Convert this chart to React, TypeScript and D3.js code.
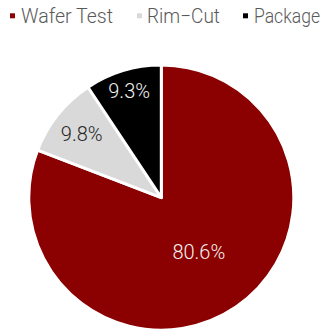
import React, { useLayoutEffect, useRef, useState } from "react";
import * as d3 from "d3";

const categories = ["Wafer Test", "Rim\u2212Cut", "Package"];
const values = [80.6, 9.8, 9.3];
const labels = ["80.6%", "9.8%", "9.3%"];
const colors = ["#8B0000", "#D9D9D9", "#000000"];
const labelColors = ["#F2F2F2", "#262626", "#F2F2F2"];
const labelRadiusFactor = [0.5, 0.77, 0.84];
const legendX = [10, 137, 243];
const legendTextX = [21, 147, 254];
const legendTextW = [92, 73, 66];

function FitText({ x, y, w, children }: { x: number; y: number; w: number; children: string }) {
  const ref = useRef<SVGTextElement>(null);
  const [sx, setSx] = useState(1);
  useLayoutEffect(() => {
    if (ref.current) {
      const nat = ref.current.getComputedTextLength();
      if (nat > 0) setSx(w / nat);
    }
  }, [w, children]);
  return (
    <text ref={ref} transform={`translate(${x},${y}) scale(${sx},1)`} fontSize={20.5} fontWeight={300} fill="#595959">
      {children}
    </text>
  );
}

export default function App() {
  const W = 323, H = 332;
  const cx = 161.3, cy = 197.6, R = 132.5;
  const pie = d3.pie<number>().sort(null).value((d) => d)(values);
  const arc = d3.arc<d3.PieArcDatum<number>>().innerRadius(0).outerRadius(R);
  return (
    <svg width={W} height={H} style={{ position: "absolute", left: 0, top: 0, display: "block" }}
      fontFamily="Roboto">
      <g transform={`translate(${cx},${cy})`}>
        {pie.map((p, i) => (
          <path key={i} d={arc(p) || ""} fill={colors[i]} stroke="#fff" strokeWidth={3} strokeLinejoin="round" />
        ))}
        {pie.map((p, i) => {
          const a = (p.startAngle + p.endAngle) / 2;
          const r = R * labelRadiusFactor[i];
          return (
            <text key={"l" + i} x={r * Math.sin(a)} y={-r * Math.cos(a)} dy="0.36em" textAnchor="middle"
              fontSize={20} fontWeight={300} fill={labelColors[i]}>{labels[i]}</text>
          );
        })}
      </g>
      {categories.map((c, i) => (
        <g key={"g" + i}>
          <rect x={legendX[i]} y={13.3} width={5} height={5} fill={colors[i]} />
          <FitText x={legendTextX[i]} y={23.3} w={legendTextW[i]}>{c}</FitText>
        </g>
      ))}
    </svg>
  );
}
